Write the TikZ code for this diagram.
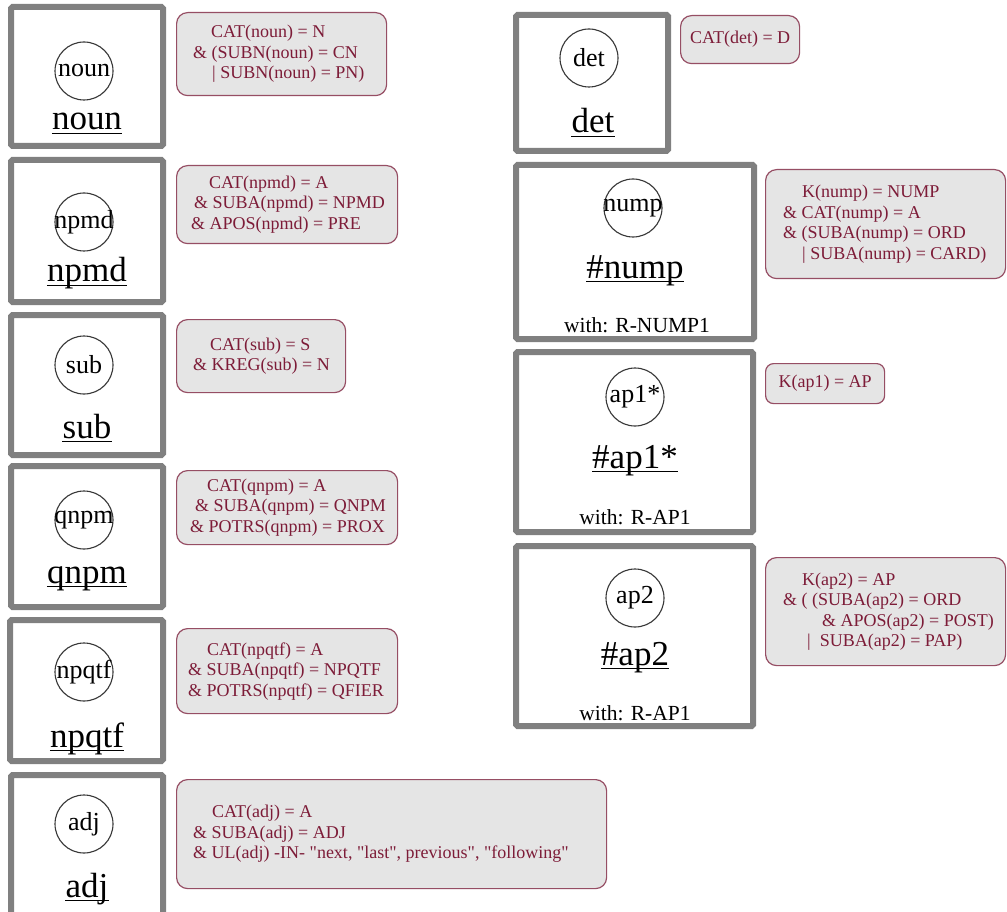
\documentclass[tikz,border=0pt]{standalone}
\usepackage{fontspec}
\setmainfont{Liberation Serif}
\definecolor{framegray}{RGB}{128,128,128}
\definecolor{ringgray}{RGB}{55,55,55}
\definecolor{condtext}{RGB}{125,28,56}
\definecolor{condedge}{RGB}{150,78,100}
\definecolor{condfill}{RGB}{229,229,229}
\tikzset{
  catframe/.style={draw=framegray, line width=6pt, rounded corners=1.5pt, rectangle, inner sep=0pt},
  catring/.style={draw=ringgray, line width=1.1pt, circle, minimum size=58pt, inner sep=0pt,
                  font=\fontsize{26}{26}\selectfont},
  catname/.style={inner sep=0pt, anchor=base, font=\fontsize{35}{35}\selectfont},
  withnote/.style={inner sep=0pt, anchor=base, font=\fontsize{21.5}{21.5}\selectfont},
  cond/.style={draw=condedge, fill=condfill, line width=1.2pt, rounded corners=11pt, rectangle,
               inner sep=0pt, anchor=north west},
  condtxt/.style={inner sep=0pt, anchor=west, align=left, text=condtext,
                  font=\fontsize{18}{20.5}\selectfont},
  catuline/.style={line width=1.8pt},
}
% underline a category name node at a fixed distance below its baseline
\newcommand\ulname[1]{\draw[catuline] ([yshift=-3.5pt]#1.base west) -- ([yshift=-3.5pt]#1.base east);}
% straight double quote
\newcommand\sq{\textquotedbl}
\begin{document}
\begin{tikzpicture}[x=1pt,y=-1pt]
\useasboundingbox (0,0) rectangle (1007,912);
\fill[white] (0,0) rectangle (1007,912);
\clip (0,0) rectangle (1007,912);

% ---------------- left column ----------------
% noun
\node[catframe, minimum width=152pt, minimum height=139pt] (noun-f) at (87,76.5) {};
\node[catring] (noun-r) at (84,71) {\makebox[0pt]{noun}};
\node[catname] (noun-n) at (87,130) {noun};
\ulname{noun-n}
\node[cond, minimum width=210pt, minimum height=83pt] (noun-c) at (176,12) {};
\node[condtxt] (noun-ct) at ([xshift=17pt]noun-c.west)
  {\hspace*{18pt}CAT(noun) = N\\\&~(SUBN(noun) = CN\\\hspace*{19pt}|~SUBN(noun) = PN)};

% npmd
\node[catframe, minimum width=152pt, minimum height=142pt] (npmd-f) at (87,231) {};
\node[catring] (npmd-r) at (84,222) {\makebox[0pt]{npmd}};
\node[catname] (npmd-n) at (87,282) {npmd};
\ulname{npmd-n}
\node[cond, minimum width=221pt, minimum height=78pt] (npmd-c) at (176,165) {};
\node[condtxt] (npmd-ct) at ([xshift=15pt]npmd-c.west)
  {\hspace*{18pt}CAT(npmd) = A\\\hspace*{3pt}\&~SUBA(npmd) = NPMD\\\&~APOS(npmd) = PRE};

% sub
\node[catframe, minimum width=152pt, minimum height=140pt] (sub-f) at (87,385) {};
\node[catring] (sub-r) at (84,365) {\makebox[0pt]{sub}};
\node[catname] (sub-n) at (87,438) {sub};
\ulname{sub-n}
\node[cond, minimum width=169pt, minimum height=73pt] (sub-c) at (176,319) {};
\node[condtxt] (sub-ct) at ([xshift=17pt]sub-c.west)
  {\hspace*{17pt}CAT(sub) = S\\\&~KREG(sub) = N};

% qnpm
\node[catframe, minimum width=152pt, minimum height=141pt] (qnpm-f) at (87,536.5) {};
\node[catring] (qnpm-r) at (84,520) {\makebox[0pt]{qnpm}};
\node[catname] (qnpm-n) at (87,583) {qnpm};
\ulname{qnpm-n}
\node[cond, minimum width=221pt, minimum height=74pt] (qnpm-c) at (176,470) {};
\node[condtxt] (qnpm-ct) at ([xshift=14pt]qnpm-c.west)
  {\hspace*{17pt}CAT(qnpm) = A\\\hspace*{5pt}\&~SUBA(qnpm) = QNPM\\\&~POTRS(qnpm) = PROX};

% npqtf
\node[catframe, minimum width=153pt, minimum height=141pt] (npqtf-f) at (86.5,690.5) {};
\node[catring] (npqtf-r) at (84,672) {\makebox[0pt]{npqtf}};
\node[catname] (npqtf-n) at (87,747) {npqtf};
\ulname{npqtf-n}
\node[cond, minimum width=221pt, minimum height=85pt] (npqtf-c) at (176,628) {};
\node[condtxt] (npqtf-ct) at ([xshift=12pt]npqtf-c.west)
  {\hspace*{19pt}CAT(npqtf) = A\\\&~SUBA(npqtf) = NPQTF\\\&~POTRS(npqtf) = QFIER};

% adj
\node[catframe, minimum width=152pt, minimum height=152pt] (adj-f) at (87,851) {};
\node[catring] (adj-r) at (84,824) {\makebox[0pt]{adj}};
\node[catname] (adj-n) at (87,897) {adj};
\ulname{adj-n}
\node[cond, minimum width=430pt, minimum height=109pt] (adj-c) at (176,779) {};
\node[condtxt] (adj-ct) at ([xshift=17pt]adj-c.west)
  {\hspace*{19pt}CAT(adj) = A\\\&~SUBA(adj) = ADJ\\\&~UL(adj) -IN- \sq next, \sq last\sq, previous\sq, \sq following\sq};

% ---------------- right column ----------------
% det
\node[catframe, minimum width=152pt, minimum height=136pt] (det-f) at (592,83) {};
\node[catring] (det-r) at (589,58) {\makebox[0pt]{det}};
\node[catname] (det-n) at (593,133) {det};
\ulname{det-n}
\node[cond, minimum width=119pt, minimum height=48pt] (det-c) at (680,15) {};
\node[condtxt, anchor=center] (det-ct) at (det-c.center) {CAT(det) = D};

% nump
\node[catframe, minimum width=238pt, minimum height=174pt] (nump-f) at (635,252) {};
\node[catring] (nump-r) at (633,208) {\makebox[0pt]{nump}};
\node[catname] (nump-n) at (635,278) {\#nump};
\ulname{nump-n}
\node[withnote] (nump-w) at (637,332) {with: R-NUMP1};
\node[cond, minimum width=240pt, minimum height=109pt] (nump-c) at (765,169) {};
\node[condtxt] (nump-ct) at ([xshift=18pt]nump-c.west)
  {\hspace*{19pt}K(nump) = NUMP\\\&~CAT(nump) = A\\\&~(SUBA(nump) = ORD\\\hspace*{19pt}|~SUBA(nump) = CARD)};

% ap1*
\node[catframe, minimum width=237pt, minimum height=180pt] (ap1-f) at (634.5,442) {};
\node[catring] (ap1-r) at (635,397) {\makebox[0pt]{ap1*}};
\node[catname] (ap1-n) at (635,468) {\#ap1*};
\ulname{ap1-n}
\node[withnote] (ap1-w) at (635,524) {with: R-AP1};
\node[cond, minimum width=119pt, minimum height=40pt, rounded corners=8pt] (ap1-c) at (765,363) {};
\node[condtxt, anchor=center] (ap1-ct) at (ap1-c.center) {K(ap1) = AP};

% ap2
\node[catframe, minimum width=237pt, minimum height=180pt] (ap2-f) at (634.5,636) {};
\node[catring] (ap2-r) at (635,598) {\makebox[0pt]{ap2}};
\node[catname] (ap2-n) at (635,665) {\#ap2};
\ulname{ap2-n}
\node[withnote] (ap2-w) at (635,720) {with: R-AP1};
\node[cond, minimum width=240pt, minimum height=108pt] (ap2-c) at (765,557) {};
\node[condtxt] (ap2-ct) at ([xshift=18pt]ap2-c.west)
  {\hspace*{19pt}K(ap2) = AP\\\&~(~(SUBA(ap2) = ORD\\\hspace*{39pt}\&~APOS(ap2) = POST)\\\hspace*{24pt}|~~SUBA(ap2) = PAP)};
\end{tikzpicture}
\end{document}
